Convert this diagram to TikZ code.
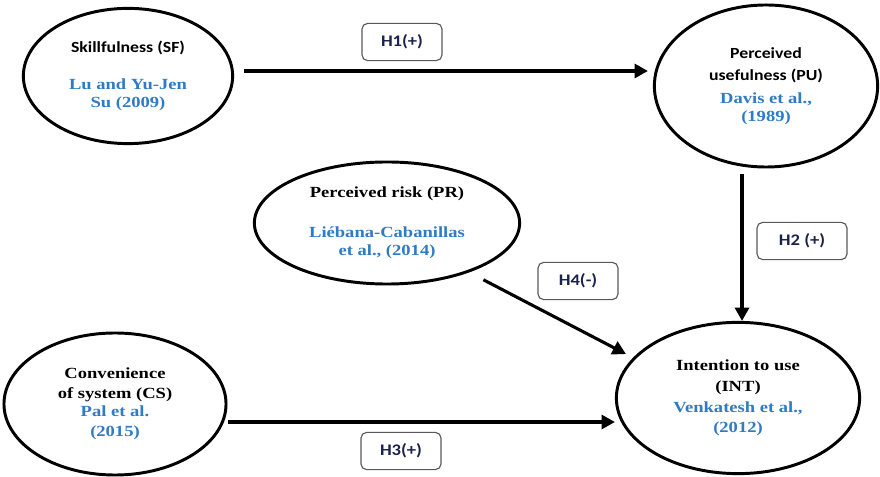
\documentclass[tikz,border=0pt]{standalone}
\usepackage{fontspec}
\setmainfont{Liberation Serif}[FakeStretch=1.2]
\newfontfamily\calib{Carlito}[FakeStretch=1.15]
\usetikzlibrary{shapes.geometric,arrows.meta,calc}
\definecolor{citeblue}{HTML}{2F7BC6}
\definecolor{hypnavy}{HTML}{1C2250}
\newcommand{\srcref}[1]{\textcolor{citeblue}{#1}}
\tikzset{
  construct/.style={ellipse, draw, line width=2.1pt, inner sep=0pt, align=center,
    font=\bfseries\fontsize{11}{13}\selectfont},
  hyp/.style={rectangle, draw=black!65, rounded corners=4pt, line width=0.8pt,
    minimum width=2cm, minimum height=0.93cm, text=hypnavy,
    font=\calib\bfseries\fontsize{11.5}{13}\selectfont},
  link/.style={line width=2.2pt, -{Triangle[length=9.5pt,width=10pt]}}
}

\begin{document}
\begin{tikzpicture}[x=0.025cm,y=-0.025cm]
\useasboundingbox (0,0) rectangle (880,477);
% constructs
\node[construct, minimum width=5.23cm, minimum height=3.38cm] (SF) at (128,76)
  {{\calib Skillfulness (SF)}\\[13pt]\srcref{Lu and Yu-Jen}\\\srcref{Su (2009)}};
\node[construct, minimum width=5.58cm, minimum height=4.05cm] (PU) at (766,86)
  {{\calib Perceived}\\[3pt]{\calib usefulness (PU)}\\[3pt]\srcref{Davis et al.,}\\\srcref{(1989)}};
\node[construct, minimum width=6.63cm, minimum height=3.05cm] (PR) at (387,223)
  {Perceived risk (PR)\\[15pt]\srcref{Liébana-Cabanillas}\\\srcref{et al., (2014)}};
\node[construct, minimum width=5.55cm, minimum height=3.55cm] (CS) at (115,404)
  {Convenience\\[1pt]of system (CS)\\\srcref{Pal et al.}\\[1pt]\srcref{(2015)}};
\node[construct, minimum width=6.08cm, minimum height=3.78cm] (INT) at (738,398)
  {Intention to use\\[2pt](INT)\\[2pt]\srcref{Venkatesh et al.,}\\[1pt]\srcref{(2012)}};

% paths
\coordinate (h2s) at ($(PU.south -| INT.north)+(4,6)$);
\draw[link] ($(SF.east)+(10,-5)$) -- ($(SF.east -| PU.west)+(-5,-5)$);
\draw[link] (h2s) -- (h2s |- INT.north);
\draw[link] ($(CS.east)+(0,18)$) -- ($(CS.east -| INT.west)+(0,18)$);
\draw[link, shorten <=0.4cm, shorten >=0.2cm] (PR.-31) -- (INT.159);

% hypotheses
\foreach \n/\x/\y/\t in {hone/402/42/H1(+),hfour/578/281/H4(-),hthree/401/451/H3(+)}
  \node[hyp] (\n) at (\x,\y) {\t};
\node[hyp, minimum width=2.25cm] (htwo) at (802,241) {H2 (+)};
\end{tikzpicture}
\end{document}
